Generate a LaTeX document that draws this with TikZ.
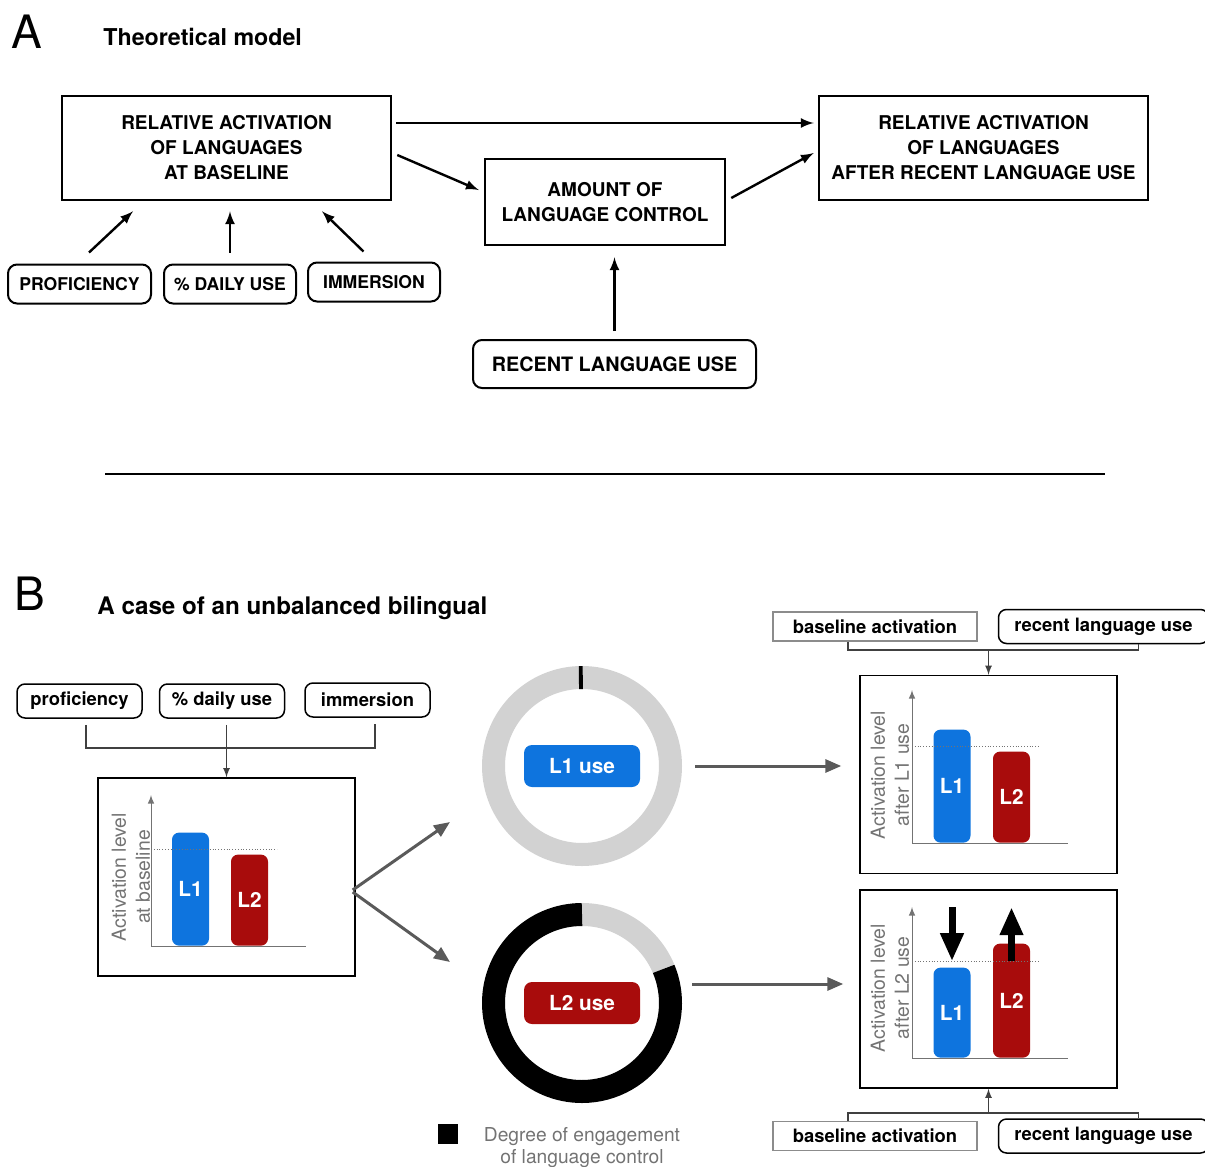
\documentclass[tikz,border=0pt]{standalone}
\usepackage{fontspec}
\setmainfont{TeX Gyre Heros}
\usetikzlibrary{positioning}
\usetikzlibrary{arrows.meta}

\definecolor{lunoblue}{RGB}{14,116,222}
\definecolor{lduered}{RGB}{168,12,12}
\definecolor{anello}{RGB}{210,210,210}
\definecolor{frecciagr}{RGB}{90,90,90}
\definecolor{assegr}{RGB}{115,115,115}

\tikzset{
	bigbox/.style={draw, line width=1.25pt, align=center, inner sep=0pt, font=\bfseries\fontsize{9.5}{12.5}\selectfont},
	capbox/.style={draw, line width=1pt, rounded corners=4.5pt, inner sep=0pt, minimum height=19.5pt, font=\bfseries\fontsize{8.8}{10}\selectfont},
	smallbox/.style={draw, line width=0.75pt, rounded corners=4pt, inner sep=0pt, minimum width=62.5pt, minimum height=17pt, font=\bfseries\fontsize{9.2}{11}\selectfont},
	actbox/.style={draw=black!45, line width=0.75pt, inner sep=0pt, minimum width=102pt, minimum height=14.5pt, font=\bfseries\fontsize{9.2}{11}\selectfont},
	chartbox/.style={draw, line width=0.7pt, inner sep=0pt, minimum width=128.5pt, minimum height=99pt},
	barone/.style={fill=lunoblue, rounded corners=3.5pt, text=white, inner sep=0pt, minimum width=18.5pt, anchor=south, font=\bfseries\fontsize{10.4}{11}\selectfont},
	bartwo/.style={barone, fill=lduered},
	axislabel/.style={text=assegr, rotate=90, align=center, inner sep=0pt, font=\fontsize{9.7}{12}\selectfont},
	useone/.style={fill=lunoblue, rounded corners=4pt, text=white, inner sep=0pt, minimum width=58pt, minimum height=21pt, font=\bfseries\fontsize{10.4}{12}\selectfont},
	usetwo/.style={useone, fill=lduered},
	toparrow/.style={->, line width=1.2pt},
	grayarrow/.style={frecciagr, line width=1.5pt, -{Triangle[length=8pt,width=6.5pt]}},
	brk/.style={black!75, line width=0.6pt},
	axis/.style={assegr, line width=0.5pt},
	levelline/.style={densely dotted, assegr, line width=0.4pt},
	bigarrow/.style={line width=3.5pt, -{Triangle[length=14pt,width=11pt]}}
}

\begin{document}
\begin{tikzpicture}[>=latex, x=0.5pt, y=-0.5pt]
	\useasboundingbox (0,0) rectangle (1205,1167);
	%%%	Part A
	\node[inner sep=0pt, font=\fontsize{23}{24}\selectfont] (labA) at (27,32) {A};
	\node[anchor=base west, inner sep=0pt, font=\bfseries\fontsize{11.6}{14}\selectfont] (titA) at (103,45) {Theoretical model};
	
	\node[bigbox, minimum width=164.5pt, minimum height=52pt] (base) at (226.5,148) {RELATIVE ACTIVATION\\OF LANGUAGES\\AT BASELINE};
	\node[bigbox, minimum width=120pt, minimum height=43pt] (ctrl) at (605,202) {AMOUNT OF\\LANGUAGE CONTROL};
	\node[bigbox, minimum width=164.5pt, minimum height=52pt] (after) at (983.5,148) {RELATIVE ACTIVATION\\OF LANGUAGES\\AFTER RECENT LANGUAGE USE};
	
	\node[capbox, minimum width=71.5pt] (prof) at (79.5,284) {PROFICIENCY};
	\node[capbox, minimum width=66pt, right=5.5pt of prof] (daily) {\% DAILY USE};
	\node[capbox, minimum width=66pt, right=5pt of daily, yshift=1pt] (imm) {IMMERSION};
	\node[capbox, minimum width=141.5pt, minimum height=24pt, font=\bfseries\fontsize{9.9}{12}\selectfont] (recent) at (614.5,364) {RECENT LANGUAGE USE};
	
	\draw[toparrow] ([xshift=2pt,yshift=12.5pt]base.east) -- ([xshift=-2pt,yshift=12.5pt]after.west);
	\draw[toparrow] ([xshift=2.5pt,yshift=-3.5pt]base.east) -- ([xshift=-2.5pt,yshift=6pt]ctrl.west);
	\draw[toparrow] ([xshift=2.5pt,yshift=2pt]ctrl.east) -- ([xshift=-2pt,yshift=-2.5pt]after.west);
	\draw[toparrow] ([shift={(4.75pt,5.5pt)}]prof.north) -- ([shift={(-46.75pt,-5pt)}]base.south);
	\draw[toparrow] ([yshift=5.5pt]daily.north) -- ([yshift=-5pt]daily.north |- base.south);
	\draw[toparrow] ([shift={(-5.25pt,5pt)}]imm.north) -- ([shift={(47.75pt,-5pt)}]base.south);
	\draw[toparrow] ([yshift=4pt]recent.north) -- ([yshift=-5.5pt]recent.north |- ctrl.south);
	
	\draw[line width=1.25pt] (105,474) -- (1105,474);
	
	%%%	Part B
	\node[inner sep=0pt, font=\fontsize{23}{24}\selectfont] (labB) at (30,594) {B};
	\node[anchor=base west, inner sep=0pt, font=\bfseries\fontsize{12.1}{14}\selectfont] (titB) at (97,614) {A case of an unbalanced bilingual};
	
	\node[smallbox] (bprof) at (79.5,701) {proficiency};
	\node[smallbox, right=8pt of bprof] (bdaily) {\% daily use};
	\node[smallbox, right=9.5pt of bdaily, yshift=0.5pt] (bimm) {immersion};
	
	%	baseline chart
	\node[chartbox] (chart0) at (226.5,877) {};
	\draw[axis, ->] (151,946) -- (151,795);
	\draw[axis] (151,946) -- (306,946);
	\node[barone, minimum height=56.5pt] (c0L1) at (190.5,946) {L1};
	\node[bartwo, minimum height=45.5pt] (c0L2) at (249.5,946) {L2};
	\draw[levelline] (151,849) -- (277,849);
	\node[axislabel] (ylab0) at (131,877) {Activation level\\at baseline};
	
	\coordinate (j0) at (227,748);
	\draw[brk] ([shift={(3.25pt,-3pt)}]bprof.south) |- (j0) -| ([shift={(3.75pt,-3pt)}]bimm.south);
	\draw[brk, ->] ([yshift=-3pt]chart0.north |- bdaily.south) -- (chart0.north);
	
	%	rings
	\node[circle, inner sep=0pt, minimum size=100pt] (ring1) at (582,766) {};
	\node[circle, inner sep=0pt, minimum size=100pt] (ring2) at (582,1003) {};
	\begin{scope}[shift={(582,766)}, yscale=-1]
		\draw[anello, line width=11.5pt] (0,0) circle[radius=88.5];
		\draw[black, line width=11.5pt] (89.5:88.5) arc[start angle=89.5, end angle=92, radius=88.5];
	\end{scope}
	\begin{scope}[shift={(582,1003)}, yscale=-1]
		\draw[anello, line width=11.5pt] (22.7:88.5) arc[start angle=22.7, end angle=90, radius=88.5];
		\draw[black, line width=11.5pt] (90:88.5) arc[start angle=90, end angle=382.7, radius=88.5];
	\end{scope}
	\node[useone] (l1use) at (ring1) {L1 use};
	\node[usetwo] (l2use) at (ring2) {L2 use};
	
	\coordinate (up0) at (450,822);
	\coordinate (dn0) at (450,962);
	\draw[grayarrow] ([shift={(-1.5pt,-6.5pt)}]chart0.east) -- (up0);
	\draw[grayarrow] ([shift={(-1.5pt,-7.5pt)}]chart0.east) -- (dn0);
	
	%	chart after L1 use
	\node[chartbox] (chart1) at (988.5,774.5) {};
	\draw[axis, ->] (912,843) -- (912,690);
	\draw[axis] (912,843) -- (1068,843);
	\node[barone, minimum height=56.5pt] (c1L1) at (952,843) {L1};
	\node[bartwo, minimum height=45.5pt] (c1L2) at (1011.5,843) {L2};
	\draw[levelline] (912,746) -- (1040,746);
	\node[axislabel] (ylab1) at (890,775) {Activation level\\after L1 use};
	
	\node[actbox] (bact1) at (875,626.5) {baseline activation};
	\node[smallbox, minimum width=105pt, right=10pt of bact1] (rec1) {recent language use};
	\coordinate (j1) at (988.5,650);
	\draw[brk] ([xshift=-13.5pt]bact1.south) |- (j1) -| ([xshift=17.5pt]rec1.south);
	\draw[brk, ->] (j1) -- (chart1.north);
	
	%	chart after L2 use
	\node[chartbox] (chart2) at (988.5,989) {};
	\draw[axis, ->] (912,1058) -- (912,907);
	\draw[axis] (912,1058) -- (1068,1058);
	\node[barone, minimum height=45pt] (c2L1) at (952,1058) {L1};
	\node[bartwo, minimum height=57pt] (c2L2) at (1011.5,1058) {L2};
	\draw[levelline] (912,961) -- (1040,961);
	\node[axislabel] (ylab2) at (890,988) {Activation level\\after L2 use};
	\draw[bigarrow] ([yshift=30pt]c2L1.north) -- ([yshift=3pt]c2L1.north);
	\draw[bigarrow] ([yshift=-9pt]c2L2.north) -- ([yshift=18pt]c2L2.north);
	
	\node[actbox] (bact2) at (875,1136) {baseline activation};
	\node[smallbox, minimum width=105pt, right=10pt of bact2] (rec2) {recent language use};
	\coordinate (j2) at (988.5,1113);
	\draw[brk] ([xshift=-13.5pt]bact2.north) |- (j2) -| ([xshift=17.5pt]rec2.north);
	\draw[brk, ->] (j2) -- (chart2.south);
	
	\draw[grayarrow, shorten <=6.5pt, shorten >=9pt] (ring1.east) -- (ring1.east -| chart1.west);
	\draw[grayarrow, shorten <=5pt, shorten >=8pt] ([yshift=9.5pt]ring2.east) -- ([yshift=9.5pt]ring2.east -| chart2.west);
	
	%	legend
	\node[fill=black, inner sep=0pt, minimum size=10pt] (leg) at (448,1134) {};
	\node[anchor=north, align=center, inner sep=0pt, text=assegr, font=\fontsize{9.6}{11}\selectfont] (legtxt) at (582,1127) {Degree of engagement\\of language control};
\end{tikzpicture}
\end{document}
